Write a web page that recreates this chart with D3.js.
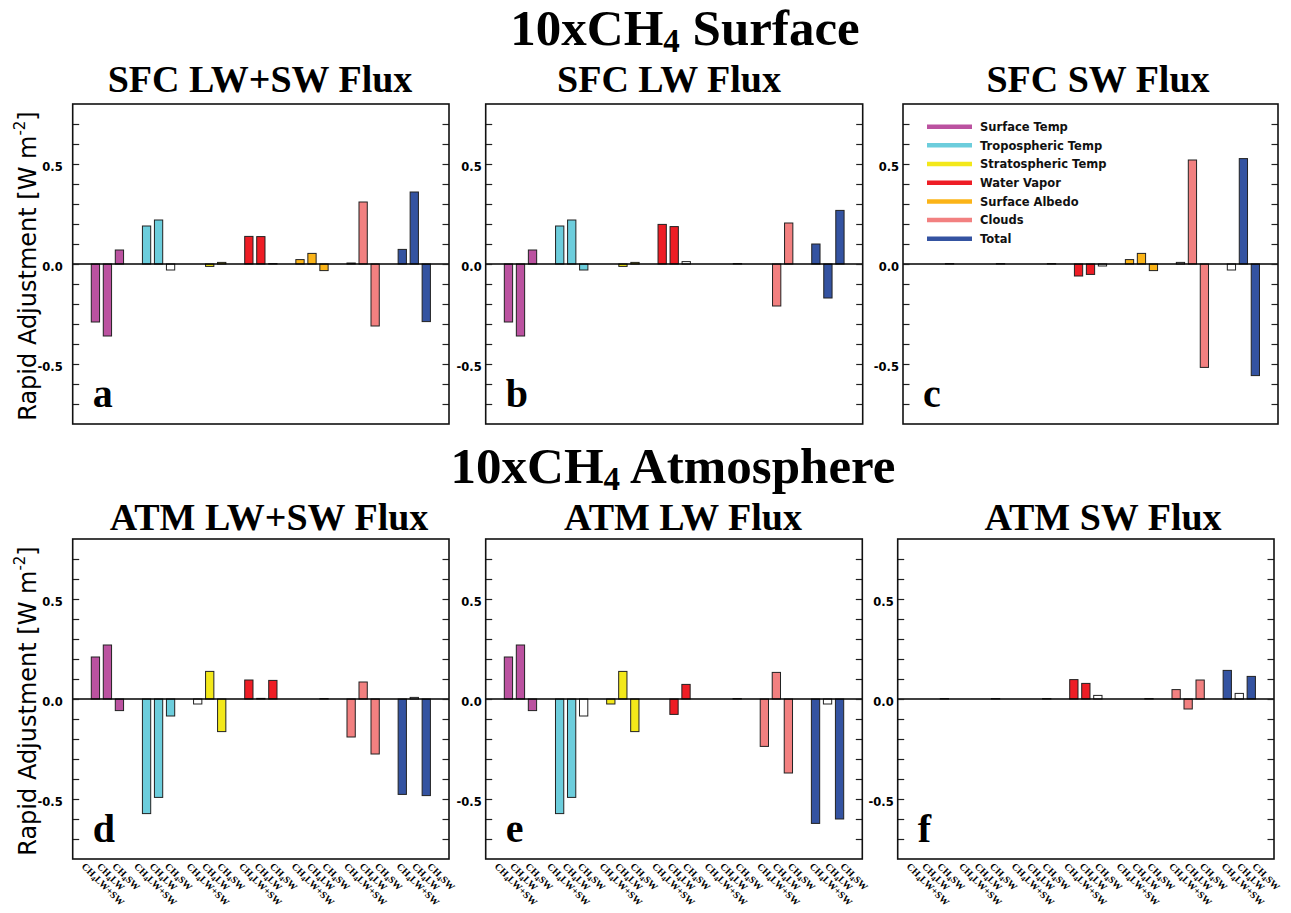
<!DOCTYPE html>
<html>
<head>
<meta charset="utf-8">
<script src="https://cdn.jsdelivr.net/npm/d3@7"></script>
<style>
  body { margin: 0; background: #fff; }
  svg { display: block; }
</style>
</head>
<body>
<svg id="fig" width="1291" height="913"></svg>
<script>
// Rapid adjustment terms for each experiment, grouped by adjustment component.
const groups = ["Surface Temp", "Tropospheric Temp", "Stratospheric Temp", "Water Vapor",
                "Surface Albedo", "Clouds", "Total"];
const groupColors = ["#bb52a0", "#6ccddc", "#f3e81a", "#ee1d25", "#fbb418", "#f28080", "#3453a1"];
const experiments = ["CH4LW+SW", "CH4LW", "CH4SW"];
const yLabelTicks = [-0.5, 0.0, 0.5];

// values[group][experiment], W m-2
const sfcLwSw = [
  [-0.29, -0.36, 0.07],
  [0.19, 0.22, -0.03],
  [0, -0.012, 0.008],
  [0.138, 0.137, 0.002],
  [0.022, 0.053, -0.033],
  [0.005, 0.31, -0.31],
  [0.073, 0.36, -0.288]
];
const sfcLw = [
  [-0.29, -0.36, 0.07],
  [0.19, 0.22, -0.03],
  [0, -0.012, 0.008],
  [0.198, 0.187, 0.012],
  [0, 0, 0.002],
  [0, -0.21, 0.205],
  [0.10, -0.17, 0.268]
];
const sfcSw = [
  [0, 0, 0.002],
  [0, 0, 0.002],
  [0, 0, 0.002],
  [-0.06, -0.052, -0.01],
  [0.022, 0.053, -0.033],
  [0.008, 0.52, -0.517],
  [-0.03, 0.527, -0.558]
];
const atmLwSw = [
  [0.21, 0.27, -0.058],
  [-0.573, -0.492, -0.085],
  [-0.025, 0.138, -0.163],
  [0.095, 0.003, 0.093],
  [0, 0, 0.002],
  [-0.19, 0.085, -0.275],
  [-0.477, 0.008, -0.483]
];
const atmLw = [
  [0.21, 0.27, -0.058],
  [-0.573, -0.492, -0.085],
  [-0.025, 0.138, -0.163],
  [0, -0.077, 0.073],
  [0, 0, 0.002],
  [-0.237, 0.133, -0.37],
  [-0.622, -0.025, -0.6]
];
const atmSw = [
  [0, 0, 0.002],
  [0, 0, 0.002],
  [0, 0, 0.002],
  [0.097, 0.078, 0.018],
  [0, 0, 0.002],
  [0.047, -0.05, 0.095],
  [0.143, 0.028, 0.113]
];

// Bars drawn unfilled (not significant), as [group, experiment]
const sfcLwSwOpen = [[1, 2], [3, 2]];
const sfcLwOpen = [[3, 2]];
const sfcSwOpen = [[3, 2], [5, 0], [6, 0]];
const atmLwSwOpen = [[2, 0], [3, 1], [6, 1]];
const atmLwOpen = [[1, 2], [6, 1]];
const atmSwOpen = [[3, 2], [6, 1]];

const svg = d3.select("#fig");
const serif = "'Liberation Serif', 'Times New Roman', serif";
const sans = "'DejaVu Sans', sans-serif";

const panelH = 320;
const panels = [
  { letter: "a", values: sfcLwSw, open: sfcLwSwOpen, title: "SFC LW+SW Flux", x0: 72.7, x1: 449, top: 104, titleX: 260, titleY: 92, gap: 10 },
  { letter: "b", values: sfcLw, open: sfcLwOpen, title: "SFC LW Flux", x0: 485.7, x1: 862.7, top: 104, titleX: 669, titleY: 92, gap: 4 },
  { letter: "c", values: sfcSw, open: sfcSwOpen, title: "SFC SW Flux", x0: 903, x1: 1278, top: 104, titleX: 1098, titleY: 92, gap: 4, legend: true },
  { letter: "d", values: atmLwSw, open: atmLwSwOpen, title: "ATM LW+SW Flux", x0: 72.7, x1: 449, top: 539, titleX: 269, titleY: 530, gap: 10, xLabels: true },
  { letter: "e", values: atmLw, open: atmLwOpen, title: "ATM LW Flux", x0: 485.7, x1: 862.3, top: 539, titleX: 683, titleY: 530, gap: 4, xLabels: true },
  { letter: "f", values: atmSw, open: atmSwOpen, title: "ATM SW Flux", x0: 897.7, x1: 1274, top: 539, titleX: 1103, titleY: 530, gap: 4, xLabels: true }
];

const fmt = v => d3.format(".1f")(v).replace("\u2212", "-");
const minorTicks = d3.range(-7, 8).map(d => d / 10);

// Row headings with subscript 4 in CH4
function rowTitle(label, cx, baseline) {
  const t = svg.append("text")
    .attr("x", cx).attr("y", baseline)
    .attr("text-anchor", "middle")
    .attr("font-family", serif).attr("font-weight", "bold").attr("font-size", 51);
  t.append("tspan").text("10xCH");
  t.append("tspan").text("4").attr("font-size", 33).attr("dy", 7);
  t.append("tspan").text(" " + label).attr("dy", -7);
}
rowTitle("Surface", 685, 45);
rowTitle("Atmosphere", 673, 483);

// Y-axis titles for each row
[104, 539].forEach(top => {
  const cy = top + panelH / 2 + 2;
  const t = svg.append("text")
    .attr("transform", `translate(36,${cy}) rotate(-90)`)
    .attr("text-anchor", "middle")
    .attr("font-family", sans).attr("font-size", 24).attr("fill", "#000");
  t.append("tspan").text("Rapid Adjustment [W m");
  t.append("tspan").text("-2").attr("font-size", 15).attr("dy", -11);
  t.append("tspan").text("]").attr("dy", 11);
});

panels.forEach(p => {
  const w = p.x1 - p.x0;
  const g = svg.append("g").attr("transform", `translate(${p.x0},${p.top})`);

  const y = d3.scaleLinear().domain([-0.8, 0.8]).range([panelH, 0]);
  const xg = d3.scaleBand().domain(groups).range([0, w]).paddingInner(0.296).paddingOuter(0.327);
  const xe = d3.scaleBand().domain(experiments).range([0, xg.bandwidth()]).paddingInner(0.31).paddingOuter(0.155);

  // panel title
  svg.append("text")
    .attr("x", p.titleX).attr("y", p.titleY)
    .attr("text-anchor", "middle")
    .attr("font-family", serif).attr("font-weight", "bold").attr("font-size", 38)
    .text(p.title);

  // bars
  const openSet = new Set(p.open.map(d => d[0] + "_" + d[1]));
  const rows = [];
  groups.forEach((grp, gi) => {
    experiments.forEach((ex, ei) => {
      rows.push({ grp, gi, ex, ei, v: p.values[gi][ei], open: openSet.has(gi + "_" + ei) });
    });
  });
  g.selectAll("rect.bar").data(rows.filter(d => d.v !== 0)).join("rect")
    .attr("class", "bar")
    .attr("x", d => xg(d.grp) + xe(d.ex))
    .attr("width", xe.bandwidth())
    .attr("y", d => y(Math.max(0, d.v)))
    .attr("height", d => Math.abs(y(d.v) - y(0)))
    .attr("fill", d => d.open ? "#fff" : groupColors[d.gi])
    .attr("stroke", "#222")
    .attr("stroke-width", 1);

  // zero line
  g.append("line")
    .attr("x1", 0).attr("x2", w)
    .attr("y1", y(0)).attr("y2", y(0))
    .attr("stroke", "#000").attr("stroke-width", 1.6);

  // inward ticks on left and right
  const left = g.append("g").call(d3.axisLeft(y).tickValues(minorTicks).tickSize(-6.5).tickSizeOuter(0).tickFormat(""));
  const right = g.append("g").attr("transform", `translate(${w},0)`)
    .call(d3.axisRight(y).tickValues(minorTicks).tickSize(-6.5).tickSizeOuter(0).tickFormat(""));
  [left, right].forEach(a => {
    a.select(".domain").remove();
    a.selectAll(".tick line").attr("stroke", "#222").attr("stroke-width", 1.2);
  });

  // tick labels
  const lab = g.append("g").call(d3.axisLeft(y).tickValues(yLabelTicks).tickSize(0).tickPadding(p.gap).tickFormat(fmt));
  lab.select(".domain").remove();
  lab.selectAll("text")
    .attr("font-family", sans).attr("font-weight", "bold").attr("font-size", 11.5)
    .attr("fill", "#000").attr("dy", "0.55em");

  // frame
  g.append("rect")
    .attr("x", 0).attr("y", 0).attr("width", w).attr("height", panelH)
    .attr("fill", "none").attr("stroke", "#111").attr("stroke-width", 1.6);

  // panel letter
  g.append("text")
    .attr("x", 20).attr("y", panelH - 17)
    .attr("font-family", serif).attr("font-weight", "bold").attr("font-size", 40)
    .text(p.letter);

  // legend
  if (p.legend) {
    const lg = g.append("g");
    groups.forEach((grp, i) => {
      const ly = 22.7 + i * 18.67;
      lg.append("line")
        .attr("x1", 24).attr("x2", 69).attr("y1", ly).attr("y2", ly)
        .attr("stroke", groupColors[i]).attr("stroke-width", 4.5);
      lg.append("text")
        .attr("x", 77).attr("y", ly).attr("dy", "0.36em")
        .attr("font-family", sans).attr("font-weight", "bold").attr("font-size", 11.5)
        .attr("fill", "#111")
        .text(grp);
    });
  }

  // rotated experiment labels under the lower panels
  if (p.xLabels) {
    const xl = d3.scalePoint().domain(groups).range([8.3, 323.3]);
    groups.forEach(grp => {
      experiments.forEach((ex, ei) => {
        const lx = xl(grp) + ei * 15.4;
        const t = g.append("text")
          .attr("transform", `translate(${lx},${panelH + 8}) rotate(45)`)
          .attr("font-family", serif).attr("font-weight", "bold").attr("font-size", 10);
        const parts = ex.split("4");
        t.append("tspan").text(parts[0]);
        t.append("tspan").text("4").attr("font-size", 7).attr("dy", 2);
        t.append("tspan").text(parts[1]).attr("dy", -2);
      });
    });
  }
});
</script>
</body>
</html>
